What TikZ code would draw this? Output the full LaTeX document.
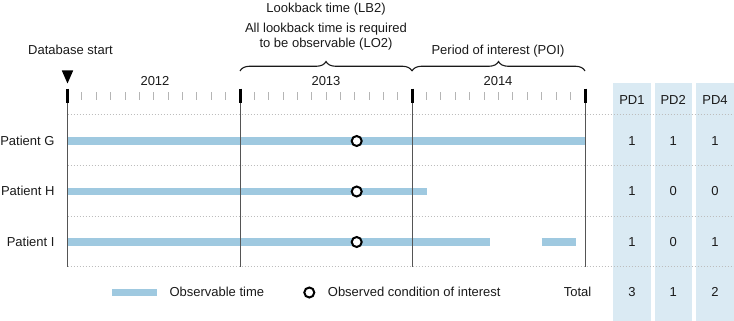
\documentclass[tikz,border=0pt]{standalone}
\usepackage{fontspec}
\setmainfont{Liberation Sans}
\usetikzlibrary{decorations.pathreplacing}
\definecolor{obsblue}{HTML}{9FC9E0}
\definecolor{pdblue}{HTML}{DAEAF3}
\definecolor{vline}{HTML}{555555}
\definecolor{dotgray}{HTML}{BDBDBD}
\definecolor{tickgray}{HTML}{B5B5B5}
\definecolor{txt}{HTML}{1A1A1A}
\begin{document}
\begin{tikzpicture}[x=1pt,y=-1pt,
  font=\fontsize{13}{15}\selectfont,
  lbl/.style={inner sep=0pt, text=txt, text height=9.4pt, text depth=0pt},
  obsbar/.style={draw=obsblue, line width=7.5pt},
  cond/.style={circle, draw=black, line width=2pt, fill=white, minimum size=10pt, inner sep=0pt},
  pdcol/.style={fill=pdblue, draw=none},
  rowsep/.style={draw=dotgray, line width=0.8pt, dash pattern=on 0.8pt off 2.2pt},
  yearline/.style={draw=vline, line width=0.9pt},
  majortick/.style={draw=black, line width=3pt},
  minortick/.style={draw=tickgray, line width=1pt},
  bracestyle/.style={draw=txt, line width=1.1pt, decorate, decoration={brace, amplitude=9.5pt}},
  marker/.style={fill=black, draw=none}]
\useasboundingbox (0,0) rectangle (734,321);

% PD columns
\fill[pdcol] (613.3,83) rectangle (650.5,321);
\fill[pdcol] (654.5,83) rectangle (692,321);
\fill[pdcol] (696,83) rectangle (734,321);

% row separators
\foreach \yy in {114,165,216,266}{
  \draw[rowsep] (67.5,\yy) -- (734,\yy);
}

% observable time bars
\coordinate (gS) at (67.5,141); \coordinate (gE) at (585,141);
\coordinate (hS) at (67.5,191.5); \coordinate (hE) at (427,191.5);
\coordinate (iS) at (67.5,242); \coordinate (iE) at (490,242);
\coordinate (iS2) at (541.7,242); \coordinate (iE2) at (576,242);
\draw[obsbar] (gS) -- (gE);
\draw[obsbar] (hS) -- (hE);
\draw[obsbar] (iS) -- (iE);
\draw[obsbar] (iS2) -- (iE2);

% year lines
\foreach \xx/\nm in {67.5/a,240/b,412/c,585/d}{
  \coordinate (\nm top) at (\xx,103);
  \coordinate (\nm bot) at (\xx,266.5);
  \draw[yearline] (\nm top) -- (\nm bot);
  \draw[majortick] (\xx,88.7) -- (\xx,103.3);
}

% minor ticks
\foreach \s/\e in {67.5/240,240/412,412/585}{
  \foreach \k in {1,...,11}{
    \draw[minortick] ({\s+(\e-\s)*\k/12},92.5) -- ({\s+(\e-\s)*\k/12},100.5);
  }
}

% database start marker
\fill[marker] (61.8,70.5) -- (73.2,70.5) -- (67.5,83.5) -- cycle;
\node[lbl] (dbstart) at (70.5,50) {Database start};

% years
\node[lbl] (y2012) at (155,80.5) {2012};
\node[lbl] (y2013) at (326,80.5) {2013};
\node[lbl] (y2014) at (498,80.5) {2014};

% braces
\coordinate (lbL) at (240,71); \coordinate (lbR) at (412,71);
\coordinate (poL) at (412,71); \coordinate (poR) at (585,71);
\draw[bracestyle] (lbL) -- (lbR);
\draw[bracestyle] (poL) -- (poR);
\node[lbl] (lbt) at (326,8) {Lookback time (LB2)};
\node[lbl] (lo1) at (326,27.5) {All lookback time is required};
\node[lbl] (lo2) at (326,42.5) {to be observable (LO2)};
\node[lbl] (poi) at (498,50) {Period of interest (POI)};

% condition markers
\node[cond] (cG) at (356.7,141) {};
\node[cond] (cH) at (356.7,191.5) {};
\node[cond] (cI) at (356.7,242) {};

% patient labels
\node[lbl, anchor=east] (pG) at (54.7,140.5) {Patient G};
\node[lbl, anchor=east] (pH) at (54.7,191) {Patient H};
\node[lbl, anchor=east] (pI) at (54.7,241.5) {Patient I};

% PD headers and values
\node[lbl] (h1) at (631.9,100) {PD1};
\node[lbl] (h2) at (673.2,100) {PD2};
\node[lbl] (h4) at (715,100) {PD4};
\node[lbl] (g1) at (631.9,140.5) {1};
\node[lbl] (g2) at (673.2,140.5) {1};
\node[lbl] (g4) at (715,140.5) {1};
\node[lbl] (r1) at (631.9,191) {1};
\node[lbl] (r2) at (673.2,191) {0};
\node[lbl] (r4) at (715,191) {0};
\node[lbl] (s1) at (631.9,241.5) {1};
\node[lbl] (s2) at (673.2,241.5) {0};
\node[lbl] (s4) at (715,241.5) {1};
\node[lbl] (t1) at (631.9,292) {3};
\node[lbl] (t2) at (673.2,292) {1};
\node[lbl] (t4) at (715,292) {2};

% legend
\coordinate (legS) at (112.3,292.5); \coordinate (legE) at (157,292.5);
\draw[obsbar, line width=7pt] (legS) -- (legE);
\node[lbl, anchor=west] (legobs) at (169.3,292) {Observable time};
\node[cond] (legc) at (309.3,292.5) {};
\node[lbl, anchor=west] (legcond) at (327.7,292) {Observed condition of interest};
\node[lbl, anchor=east] (total) at (591.5,292) {Total};
\end{tikzpicture}
\end{document}
